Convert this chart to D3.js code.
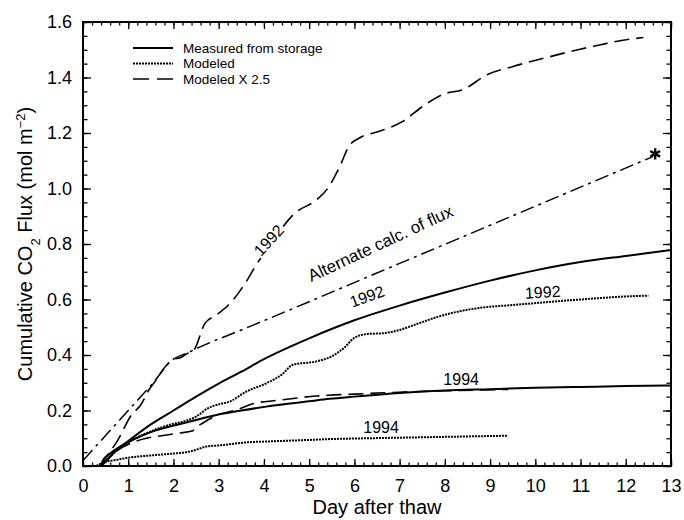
<!DOCTYPE html>
<html>
<head>
<meta charset="utf-8">
<script src="https://cdn.jsdelivr.net/npm/d3@7"></script>
<style>
  body { margin: 0; background: #fff; }
  svg text { font-family: "Liberation Sans", Arial, Helvetica, sans-serif; fill: #000; }
</style>
</head>
<body>
<div id="chart"></div>
<script>
// tick labels
var xTicks = [0, 1, 2, 3, 4, 5, 6, 7, 8, 9, 10, 11, 12, 13];
var yTicks = [0, 0.2, 0.4, 0.6, 0.8, 1.0, 1.2, 1.4, 1.6];

// series, [day after thaw, cumulative flux]
var measured1992 = [[0.4,0],[0.5,0.015],[0.74,0.058],[1,0.09],[1.5,0.15],[2,0.2],[2.5,0.25],[3,0.297],[3.5,0.34],[4,0.385],[5,0.46],[6,0.525],[7,0.578],[8,0.625],[9,0.668],[10,0.705],[11,0.735],[12,0.757],[13,0.778]];
var measured1994 = [[0.4,0],[0.44,0.02],[0.6,0.045],[1.1,0.094],[1.5,0.122],[2.21,0.154],[2.95,0.184],[3.5,0.2],[4.05,0.214],[5,0.233],[5.45,0.242],[6,0.25],[7,0.263],[8,0.272],[9,0.277],[10,0.282],[11,0.285],[12,0.288],[13,0.29]];
var modeled1992 = [[0.3,0],[0.5,0.02],[0.74,0.055],[1,0.085],[1.5,0.125],[2,0.152],[2.21,0.16],[2.5,0.178],[2.76,0.208],[3,0.222],[3.24,0.232],[3.61,0.268],[4.05,0.298],[4.4,0.33],[4.64,0.365],[5.16,0.377],[5.5,0.395],[5.8,0.43],[6,0.462],[6.3,0.476],[6.6,0.478],[7,0.49],[7.3,0.507],[8,0.545],[8.78,0.57],[9.5,0.58],[10,0.587],[11,0.6],[12,0.611],[12.5,0.614]];
var modeled1994 = [[0.3,0],[0.5,0.015],[0.74,0.022],[1,0.03],[1.5,0.038],[2,0.045],[2.21,0.048],[2.43,0.055],[2.73,0.07],[3,0.074],[3.69,0.086],[4,0.088],[5,0.094],[5.45,0.097],[6,0.099],[7,0.102],[8,0.105],[9,0.108],[9.4,0.109]];
var modeledX25_1992 = [[0.38,0],[0.5,0.03],[0.74,0.085],[1.1,0.19],[1.25,0.214],[1.48,0.28],[1.62,0.31],[1.78,0.35],[2,0.385],[2.15,0.39],[2.3,0.405],[2.44,0.415],[2.7,0.515],[2.96,0.545],[3.29,0.593],[3.54,0.647],[3.91,0.744],[4.1,0.78],[4.43,0.864],[4.65,0.906],[5.17,0.96],[5.39,0.996],[5.68,1.08],[5.87,1.15],[6.12,1.183],[6.57,1.207],[7.08,1.243],[7.52,1.297],[7.97,1.34],[8.41,1.357],[8.93,1.41],[9.51,1.44],[10.25,1.472],[10.99,1.502],[11.5,1.52],[11.72,1.528],[12.39,1.544]];
var modeledX25_1994 = [[0.4,0],[0.6,0.035],[1.1,0.085],[1.4,0.1],[1.7,0.108],[2.1,0.118],[2.43,0.127],[2.5,0.14],[2.6,0.15],[2.95,0.182],[3.39,0.202],[3.8,0.226],[4.27,0.236],[5.16,0.252],[5.42,0.255],[6,0.259],[6.5,0.263],[7,0.266],[8,0.271],[9.4,0.276]];
var alternate1992 = [[0,0.02],[0.5,0.11],[1,0.2],[1.5,0.29],[2,0.385],[2.3,0.407],[2.6,0.43],[3.5,0.49],[7,0.73],[12.6,1.115]];
var starPoint = [12.65, 1.125];

var legendNames = ["Measured from storage", "Modeled", "Modeled X 2.5"];

var margin = {top: 22, right: 13, bottom: 54, left: 83},
    width = 684 - margin.left - margin.right,
    height = 520 - margin.top - margin.bottom;

var svg = d3.select("#chart")
  .append("svg")
    .attr("width", width + margin.left + margin.right)
    .attr("height", height + margin.top + margin.bottom)
  .append("g")
    .attr("transform", "translate(" + margin.left + "," + margin.top + ")");

var x = d3.scaleLinear().domain([0, 13]).range([0, width]);
var y = d3.scaleLinear().domain([0, 1.6]).range([height, 0]);

// minor ticks
var xMinor = d3.range(0, 13.001, 0.2);
var yMinor = d3.range(0, 1.6001, 0.05);

function tickAxis(axis, vals, size, pad, fmt) {
  return axis.tickValues(vals).tickSize(-size).tickPadding(pad).tickFormat(fmt || "");
}

svg.append("g").attr("transform", "translate(0," + height + ")")
  .call(tickAxis(d3.axisBottom(x), xMinor, 3.5, 0));
svg.append("g").attr("transform", "translate(0," + height + ")")
  .call(tickAxis(d3.axisBottom(x), xTicks, 7, 13, d3.format("d")))
  .selectAll("text").style("font-size", "18px");
svg.append("g").call(tickAxis(d3.axisTop(x), xMinor, 3.5, 0));
svg.append("g").call(tickAxis(d3.axisTop(x), xTicks, 7, 0));

svg.append("g").call(tickAxis(d3.axisLeft(y), yMinor, 4.5, 0));
svg.append("g").call(tickAxis(d3.axisLeft(y), yTicks, 8, 11, d3.format(".1f")))
  .selectAll("text").style("font-size", "18px");
svg.append("g").attr("transform", "translate(" + width + ",0)")
  .call(tickAxis(d3.axisRight(y), yMinor, 4.5, 0));
svg.append("g").attr("transform", "translate(" + width + ",0)")
  .call(tickAxis(d3.axisRight(y), yTicks, 8, 0));

svg.selectAll(".domain").remove();
svg.selectAll(".tick line").attr("stroke", "#000").attr("stroke-width", 1.3);

svg.append("rect")
  .attr("width", width).attr("height", height)
  .attr("fill", "none").attr("stroke", "#000").attr("stroke-width", 2);

// lines
var line = d3.line()
  .x(function(d) { return x(d[0]); })
  .y(function(d) { return y(d[1]); })
  .curve(d3.curveMonotoneX);

var styles = {
  solid: {w: 2, dash: null},
  dotted: {w: 2, dash: "2,1"},
  dashed: {w: 1.6, dash: "15,7"},
  dashdot: {w: 1.5, dash: "14,5,3,5"}
};

function drawLine(data, st) {
  svg.append("path")
    .datum(data)
    .attr("fill", "none")
    .attr("stroke", "#000")
    .attr("stroke-width", styles[st].w)
    .attr("stroke-dasharray", styles[st].dash)
    .attr("d", line);
}

drawLine(measured1992, "solid");
drawLine(measured1994, "solid");
drawLine(modeled1992, "dotted");
drawLine(modeled1994, "dotted");
drawLine(modeledX25_1992, "dashed");
drawLine(modeledX25_1994, "dashed");
drawLine(alternate1992, "dashdot");

svg.append("path")
  .attr("d", d3.symbol(d3.symbolAsterisk, 90)())
  .attr("transform", "translate(" + x(starPoint[0]) + "," + y(starPoint[1]) + ")")
  .attr("fill", "none").attr("stroke", "#000").attr("stroke-width", 2.4);

// in-plot labels
function label(txt, d, v, angle, size, halo) {
  svg.append("text")
    .attr("transform", "translate(" + x(d) + "," + y(v) + ") rotate(" + angle + ")")
    .attr("text-anchor", "middle")
    .attr("stroke", halo ? "#fff" : null)
    .attr("stroke-width", halo ? 4 : null)
    .attr("paint-order", "stroke")
    .style("font-size", size + "px")
    .text(txt);
}
label("1992", 4.2, 0.80, -48, 16, true);
label("Alternate calc. of flux", 6.63, 0.783, -25, 17);
label("1992", 6.32, 0.592, -20, 16);
label("1992", 10.17, 0.606, -3, 16);
label("1994", 8.36, 0.292, 0, 16);
label("1994", 6.59, 0.119, 0, 16);

// legend
var legendStyles = ["solid", "dotted", "dashed"];
var legend = svg.append("g").attr("transform", "translate(50,26)");
legendNames.forEach(function(name, i) {
  var st = styles[legendStyles[i]];
  legend.append("line")
    .attr("x1", 0).attr("x2", 40)
    .attr("y1", i * 15.5).attr("y2", i * 15.5)
    .attr("stroke", "#000")
    .attr("stroke-width", st.w)
    .attr("stroke-dasharray", legendStyles[i] == "dashed" ? "16,8" : st.dash);
  legend.append("text")
    .attr("x", 50).attr("y", i * 15.5)
    .attr("dy", "0.35em")
    .style("font-size", "13.5px")
    .text(name);
});

// axis titles
svg.append("text")
  .attr("x", width / 2).attr("y", height + 48)
  .attr("text-anchor", "middle")
  .style("font-size", "20px")
  .text("Day after thaw");

var yt = svg.append("text")
  .attr("transform", "translate(" + (-51) + "," + (height / 2) + ") rotate(-90)")
  .attr("text-anchor", "middle")
  .style("font-size", "20px");
yt.append("tspan").text("Cumulative CO");
yt.append("tspan").attr("baseline-shift", "sub").style("font-size", "13px").text("2");
yt.append("tspan").text(" Flux (mol m");
yt.append("tspan").attr("baseline-shift", "super").style("font-size", "13px").text("\u22122");
yt.append("tspan").text(")");
</script>
</body>
</html>
